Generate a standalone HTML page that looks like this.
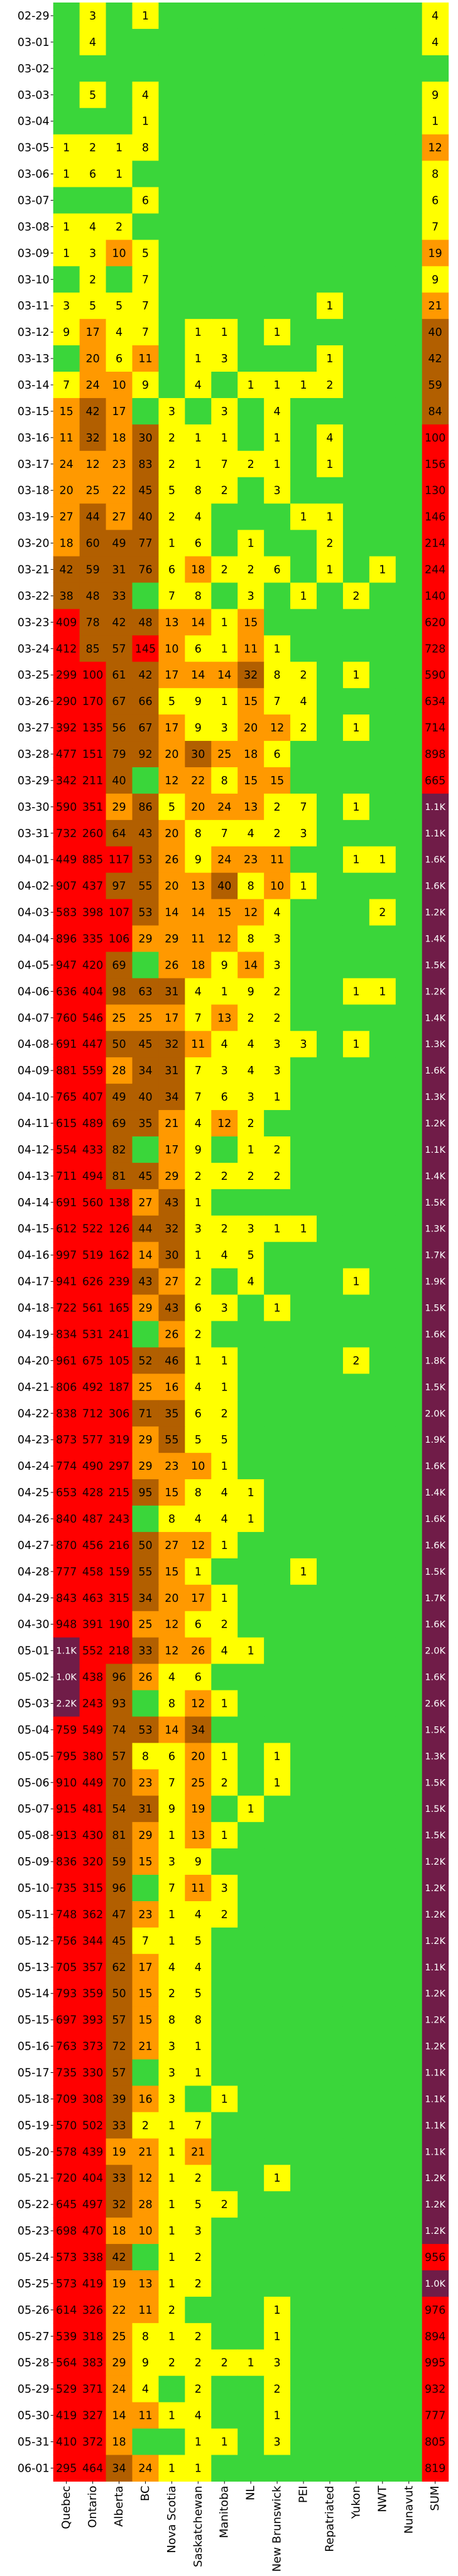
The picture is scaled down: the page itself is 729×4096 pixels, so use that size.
<!DOCTYPE html>
<html><head><meta charset="utf-8">
<style>
html,body{margin:0;padding:0;background:#fff;}
svg{display:block;font-family:"DejaVu Sans","Liberation Sans",sans-serif;}
</style></head>
<body>
<svg id="chart" width="729" height="4096" viewBox="0 0 729 4096" xmlns="http://www.w3.org/2000/svg">
<g id="cells"></g>
<g id="ylabels"></g>
<g id="xlabels"></g>
</svg>
<script>
const provinces = ["Quebec","Ontario","Alberta","BC","Nova Scotia","Saskatchewan","Manitoba","NL","New Brunswick","PEI","Repatriated","Yukon","NWT","Nunavut"];
const monthDays = [["02",[29]],["03",31],["04",30],["05",31],["06",[1]]];
const quebec = [0,0,0,0,0,1,1,0,1,1, 0,3,9,0,7,15,11,24,20,27, 18,42,38,409,412,299,290,392,477,342, 590,732,449,907,583,896,947,636,760,691, 881,765,615,554,711,691,612,997,941,722, 834,961,806,838,873,774,653,840,870,777, 843,948,1140,1020,2220,759,795,910,915,913, 836,735,748,756,705,793,697,763,735,709, 570,578,720,645,698,573,573,614,539,564, 529,419,410,295];
const ontario = [3,4,0,5,0,2,6,0,4,3, 2,5,17,20,24,42,32,12,25,44, 60,59,48,78,85,100,170,135,151,211, 351,260,885,437,398,335,420,404,546,447, 559,407,489,433,494,560,522,519,626,561, 531,675,492,712,577,490,428,487,456,458, 463,391,552,438,243,549,380,449,481,430, 320,315,362,344,357,359,393,373,330,308, 502,439,404,497,470,338,419,326,318,383, 371,327,372,464];
const alberta = [0,0,0,0,0,1,1,0,2,10, 0,5,4,6,10,17,18,23,22,27, 49,31,33,42,57,61,67,56,79,40, 29,64,117,97,107,106,69,98,25,50, 28,49,69,82,81,138,126,162,239,165, 241,105,187,306,319,297,215,243,216,159, 315,190,218,96,93,74,57,70,54,81, 59,96,47,45,62,50,57,72,57,39, 33,19,33,32,18,42,19,22,25,29, 24,14,18,34];
const bc = [1,0,0,4,1,8,0,6,0,5, 7,7,7,11,9,0,30,83,45,40, 77,76,0,48,145,42,66,67,92,0, 86,43,53,55,53,29,0,63,25,45, 34,40,35,0,45,27,44,14,43,29, 0,52,25,71,29,29,95,0,50,55, 34,25,33,26,0,53,8,23,31,29, 15,0,23,7,17,15,15,21,0,16, 2,21,12,28,10,0,13,11,8,9, 4,11,0,24];
const novaScotia = [0,0,0,0,0,0,0,0,0,0, 0,0,0,0,0,3,2,2,5,2, 1,6,7,13,10,17,5,17,20,12, 5,20,26,20,14,29,26,31,17,32, 31,34,21,17,29,43,32,30,27,43, 26,46,16,35,55,23,15,8,27,15, 20,12,12,4,8,14,6,7,9,1, 3,7,1,1,4,2,8,3,3,3, 1,1,1,1,1,1,1,2,1,2, 0,1,0,1];
const saskatchewan = [0,0,0,0,0,0,0,0,0,0, 0,0,1,1,4,0,1,1,8,4, 6,18,8,14,6,14,9,9,30,22, 20,8,9,13,14,11,18,4,7,11, 7,7,4,9,2,1,3,1,2,6, 2,1,4,6,5,10,8,4,12,1, 17,6,26,6,12,34,20,25,19,13, 9,11,4,5,4,5,8,1,1,0, 7,21,2,5,3,2,2,0,2,2, 2,4,1,1];
const manitoba = [0,0,0,0,0,0,0,0,0,0, 0,0,1,3,0,3,1,7,2,0, 0,2,0,1,1,14,1,3,25,8, 24,7,24,40,15,12,9,1,13,4, 3,6,12,0,2,0,2,4,0,3, 0,1,1,2,5,1,4,4,1,0, 1,2,4,0,1,0,1,2,0,1, 0,3,2,0,0,0,0,0,0,1, 0,0,0,2,0,0,0,0,0,2, 0,0,1,0];
const nl = [0,0,0,0,0,0,0,0,0,0, 0,0,0,0,1,0,0,2,0,0, 1,2,3,15,11,32,15,20,18,15, 13,4,23,8,12,8,14,9,2,4, 4,3,2,1,2,0,3,5,4,0, 0,0,0,0,0,0,1,1,0,0, 0,0,1,0,0,0,0,0,1,0, 0,0,0,0,0,0,0,0,0,0, 0,0,0,0,0,0,0,0,0,1, 0,0,0,0];
const newBrunswick = [0,0,0,0,0,0,0,0,0,0, 0,0,1,0,1,4,1,1,3,0, 0,6,0,0,1,8,7,12,6,15, 2,2,11,10,4,3,3,2,2,3, 3,1,0,2,2,0,1,0,0,1, 0,0,0,0,0,0,0,0,0,0, 0,0,0,0,0,0,1,1,0,0, 0,0,0,0,0,0,0,0,0,0, 0,0,1,0,0,0,0,1,1,3, 2,1,3,0];
const pei = [0,0,0,0,0,0,0,0,0,0, 0,0,0,0,1,0,0,0,0,1, 0,0,1,0,0,2,4,2,0,0, 7,3,0,1,0,0,0,0,0,3, 0,0,0,0,0,0,1,0,0,0, 0,0,0,0,0,0,0,0,0,1, 0,0,0,0,0,0,0,0,0,0, 0,0,0,0,0,0,0,0,0,0, 0,0,0,0,0,0,0,0,0,0, 0,0,0,0];
const repatriated = [0,0,0,0,0,0,0,0,0,0, 0,1,0,1,2,0,4,1,0,1, 2,1,0,0,0,0,0,0,0,0, 0,0,0,0,0,0,0,0,0,0, 0,0,0,0,0,0,0,0,0,0, 0,0,0,0,0,0,0,0,0,0, 0,0,0,0,0,0,0,0,0,0, 0,0,0,0,0,0,0,0,0,0, 0,0,0,0,0,0,0,0,0,0, 0,0,0,0];
const yukon = [0,0,0,0,0,0,0,0,0,0, 0,0,0,0,0,0,0,0,0,0, 0,0,2,0,0,1,0,1,0,0, 1,0,1,0,0,0,0,1,0,1, 0,0,0,0,0,0,0,0,1,0, 0,2,0,0,0,0,0,0,0,0, 0,0,0,0,0,0,0,0,0,0, 0,0,0,0,0,0,0,0,0,0, 0,0,0,0,0,0,0,0,0,0, 0,0,0,0];
const nwt = [0,0,0,0,0,0,0,0,0,0, 0,0,0,0,0,0,0,0,0,0, 0,1,0,0,0,0,0,0,0,0, 0,0,1,0,2,0,0,1,0,0, 0,0,0,0,0,0,0,0,0,0, 0,0,0,0,0,0,0,0,0,0, 0,0,0,0,0,0,0,0,0,0, 0,0,0,0,0,0,0,0,0,0, 0,0,0,0,0,0,0,0,0,0, 0,0,0,0];
const nunavut = [0,0,0,0,0,0,0,0,0,0, 0,0,0,0,0,0,0,0,0,0, 0,0,0,0,0,0,0,0,0,0, 0,0,0,0,0,0,0,0,0,0, 0,0,0,0,0,0,0,0,0,0, 0,0,0,0,0,0,0,0,0,0, 0,0,0,0,0,0,0,0,0,0, 0,0,0,0,0,0,0,0,0,0, 0,0,0,0,0,0,0,0,0,0, 0,0,0,0];
const series = [quebec,ontario,alberta,bc,novaScotia,saskatchewan,manitoba,nl,newBrunswick,pei,repatriated,yukon,nwt,nunavut];

const dates = [];
monthDays.forEach(([m,d])=>{ if(Array.isArray(d)) d.forEach(x=>dates.push(m+"-"+String(x).padStart(2,"0"))); else for(let i=1;i<=d;i++) dates.push(m+"-"+String(i).padStart(2,"0")); });
const columns = provinces.concat(["SUM"]);

const gridLeft=84.7, gridTop=4, cellW=41.93, cellH=41.93;
const xPos = i => gridLeft + i*cellW;
const yPos = j => gridTop + j*cellH;
function colorOf(v){
  if(v<=0) return "#3ad63a";
  if(v<10) return "#ffff00";
  if(v<30) return "#ff9900";
  if(v<100) return "#b25f00";
  if(v<1000) return "#ff0000";
  return "#701c48";
}
function fmt(v){
  if(v<1000) return String(v);
  let t=v/100; let r=Math.round(t);
  if(Math.abs(t-Math.floor(t)-0.5)<1e-9 && Math.floor(t)%2===0) r=Math.floor(t);
  return (r/10).toFixed(1)+"K";
}
const SVGNS="http://www.w3.org/2000/svg";
const cellsG=document.getElementById("cells"), ylG=document.getElementById("ylabels"), xlG=document.getElementById("xlabels");
dates.forEach((d,j)=>{
  const vals = series.map(s=>s[j]||0);
  const sum = vals.reduce((a,b)=>a+b,0);
  vals.concat([sum]).forEach((v,i)=>{
    const r=document.createElementNS(SVGNS,"rect");
    r.setAttribute("x",xPos(i)); r.setAttribute("y",yPos(j));
    r.setAttribute("width",cellW+0.5); r.setAttribute("height",cellH+0.5);
    r.setAttribute("fill",colorOf(v));
    
    
    cellsG.appendChild(r);
    if(v>0){
      const t=document.createElementNS(SVGNS,"text");
      t.setAttribute("x",xPos(i)+cellW/2); t.setAttribute("y",yPos(j)+cellH/2+1);
      t.setAttribute("text-anchor","middle"); t.setAttribute("dominant-baseline","central");
      t.setAttribute("font-size", v>=1000?"14.5":"17.5");
      t.setAttribute("fill", v>=1000?"#ffffff":(v>=100?"#1a0000":"#000000"));
      t.textContent=fmt(v);
      
      
      cellsG.appendChild(t);
    }
  });
  const tk=document.createElementNS(SVGNS,"line");
  tk.setAttribute("x1",gridLeft-4); tk.setAttribute("x2",gridLeft); tk.setAttribute("y1",yPos(j)+cellH/2); tk.setAttribute("y2",yPos(j)+cellH/2);
  tk.setAttribute("stroke","#000"); tk.setAttribute("stroke-width","1");
  
  
  ylG.appendChild(tk);
  const lt=document.createElementNS(SVGNS,"text");
  lt.setAttribute("x",gridLeft-6); lt.setAttribute("y",yPos(j)+cellH/2+1);
  lt.setAttribute("text-anchor","end"); lt.setAttribute("dominant-baseline","central");
  lt.setAttribute("font-size","17.5"); lt.setAttribute("fill","#000");
  lt.textContent=d;
  
  
  ylG.appendChild(lt);
});
const gridBottom = yPos(dates.length);
columns.forEach((c,i)=>{
  const cx=xPos(i)+cellW/2;
  const tk=document.createElementNS(SVGNS,"line");
  tk.setAttribute("x1",cx); tk.setAttribute("x2",cx); tk.setAttribute("y1",gridBottom); tk.setAttribute("y2",gridBottom+4);
  tk.setAttribute("stroke","#000");
  
  
  xlG.appendChild(tk);
  const t=document.createElementNS(SVGNS,"text");
  t.setAttribute("transform","translate("+cx+","+(gridBottom+7)+") rotate(-90)");
  t.setAttribute("text-anchor","end"); t.setAttribute("dominant-baseline","central");
  t.setAttribute("font-size","18"); t.setAttribute("fill","#000");
  t.textContent=c;
  
  
  xlG.appendChild(t);
});
</script>
</body></html>
